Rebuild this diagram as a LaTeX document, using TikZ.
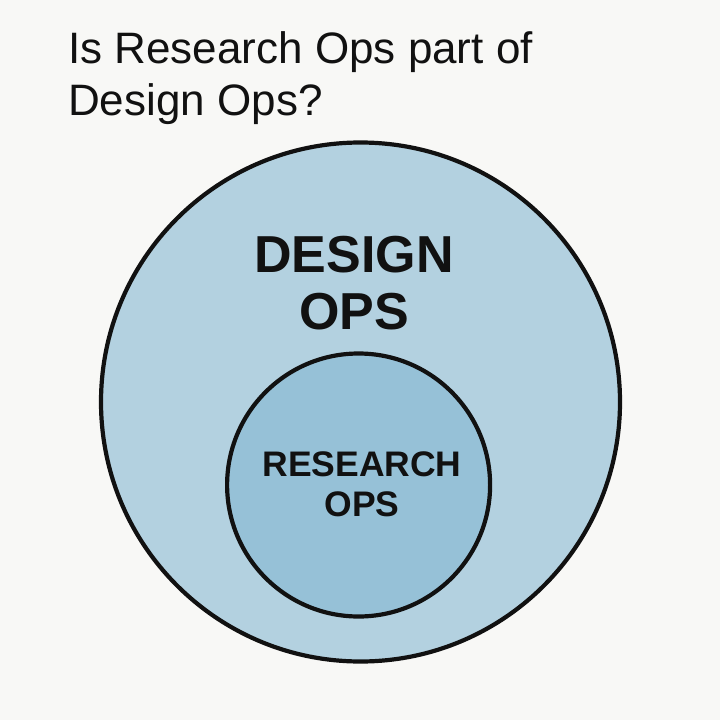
\documentclass[tikz,border=0pt]{standalone}
\usepackage{fontspec}
\setmainfont{Liberation Sans}
\usepackage{xcolor}
\usetikzlibrary{calc}
\definecolor{bg}{HTML}{F8F8F6}
\definecolor{ink}{HTML}{111111}
\definecolor{outerfill}{HTML}{B3D1E0}
\definecolor{innerfill}{HTML}{96C1D7}
\tikzset{
  ring/.style={draw=ink, line width=4.2pt},
  title/.style={text=ink, anchor=base west, inner sep=0pt, font=\fontsize{44}{52}\selectfont},
  biglab/.style={text=ink, align=center, inner sep=0pt, font=\bfseries\fontsize{52}{57}\selectfont},
  smalllab/.style={text=ink, align=center, inner sep=0pt, font=\bfseries\fontsize{35.5}{40}\selectfont},
}
\begin{document}
\begin{tikzpicture}[x=1pt,y=-1pt]
  \fill[bg] (0,0) rectangle (720,720);
  \useasboundingbox (0,0) rectangle (720,720);
  \coordinate (DesignC) at (360.5,402);
  \coordinate (ResearchC) at (358.6,485);
  % circles
  \draw[ring, fill=outerfill] (DesignC) circle[radius=259.5];
  \draw[ring, fill=innerfill] (ResearchC) circle[radius=131.5];
  % title
  \node[title] (title1) at (68,63) {Is Research Ops part of};
  \node[title] (title2) at (68,115) {Design Ops?};
  % labels
  \node[biglab] (design) at (354,283) {DESIGN\\OPS};
  \node[smalllab] (research) at (362,484) {RESEARCH\\OPS};
\end{tikzpicture}
\end{document}
